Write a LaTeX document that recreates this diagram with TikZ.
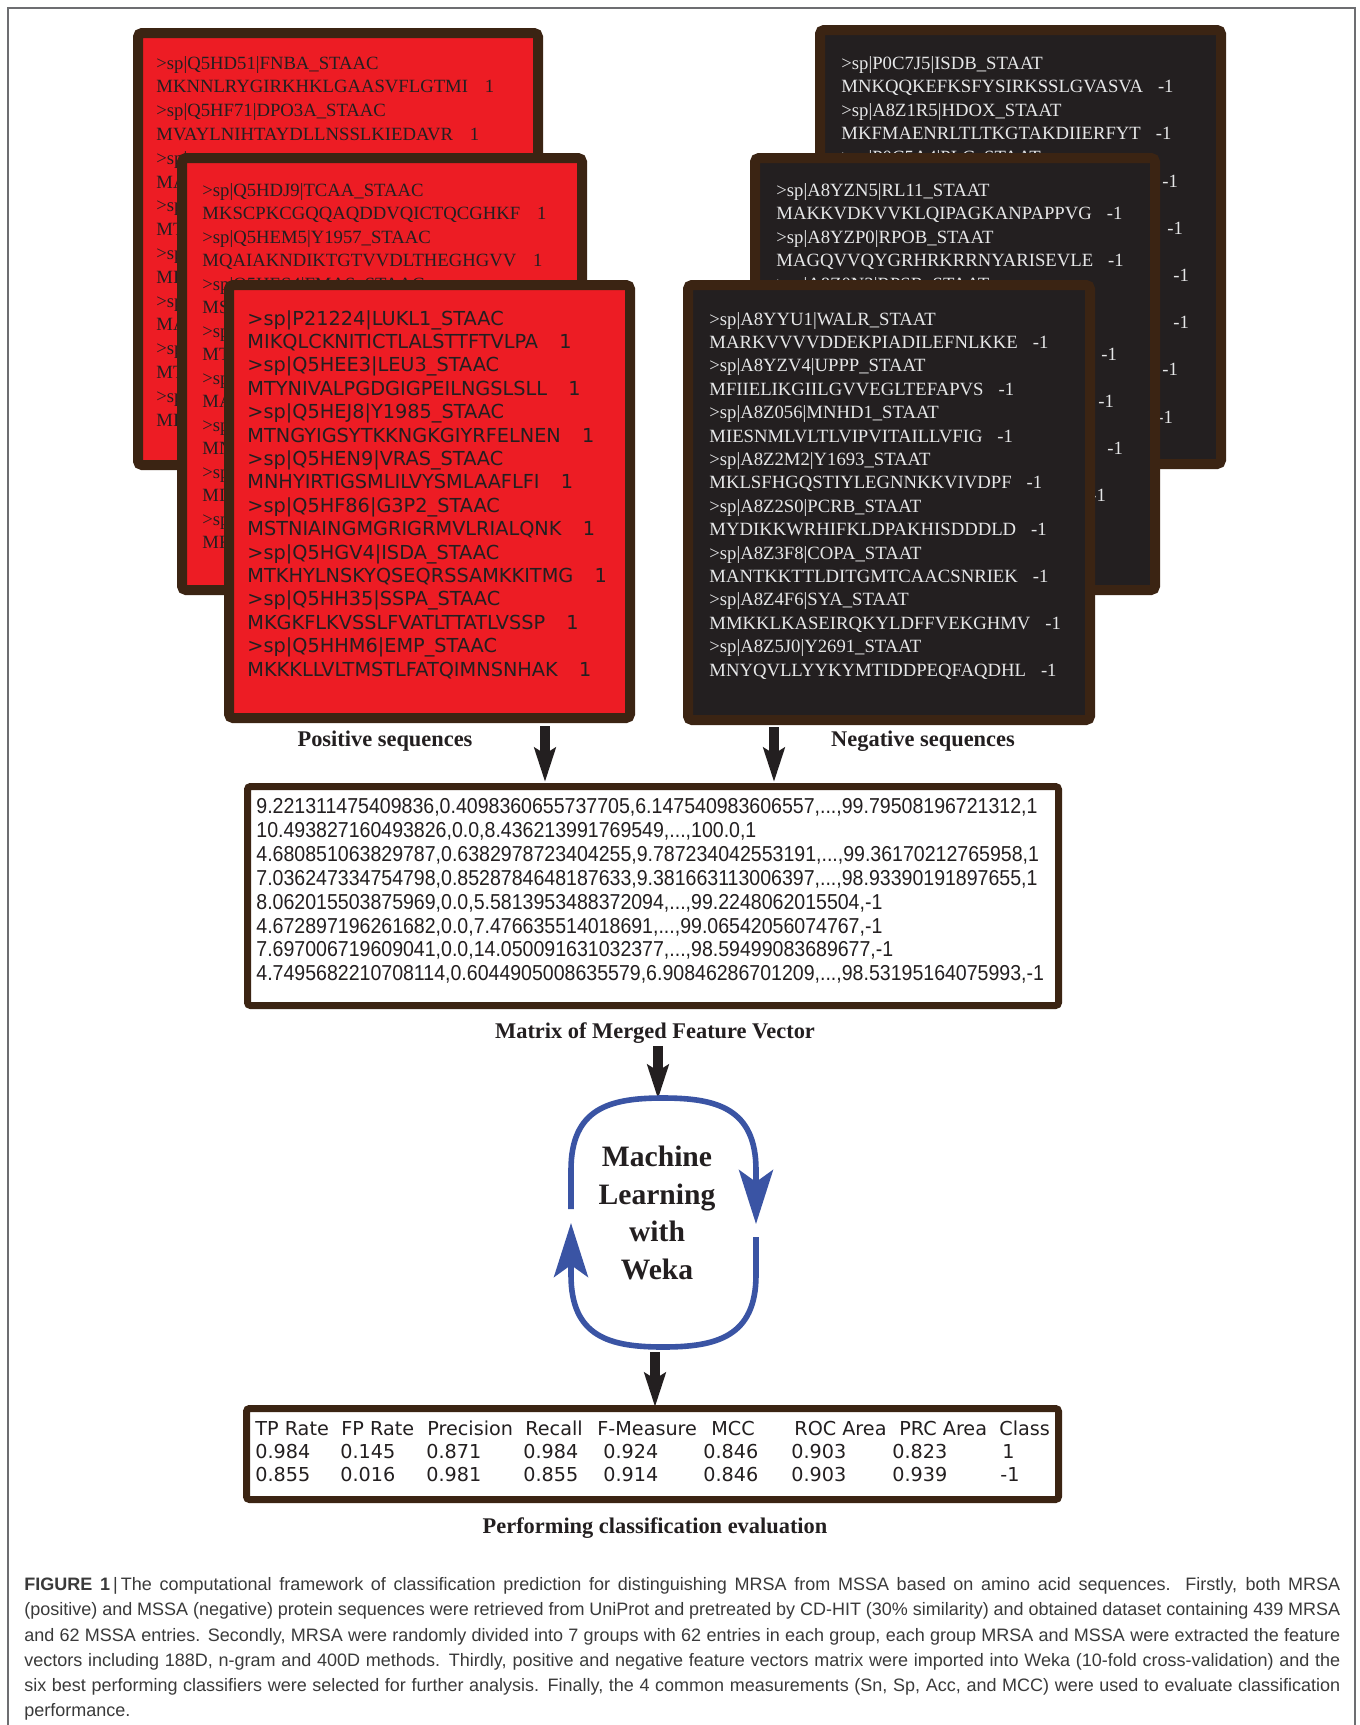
\documentclass[tikz,border=0pt]{standalone}
\usepackage{fontspec}
\setmainfont{Liberation Serif}
\newfontfamily\dvs{DejaVu Sans}
\newfontfamily\matf[FakeStretch=0.905]{Liberation Sans}
\newfontfamily\capf{Liberation Sans}
\usetikzlibrary{arrows.meta}
\definecolor{redf}{HTML}{ED1C24}
\definecolor{brd}{HTML}{3B2413}
\definecolor{darkf}{HTML}{231F20}
\definecolor{ltxt}{HTML}{E6E7E8}
\definecolor{blu}{HTML}{3A54A4}
\definecolor{capc}{HTML}{3A3A3A}
\definecolor{framec}{HTML}{6D6E71}
\begin{document}
\begin{tikzpicture}[x=0.5pt,y=-0.5pt,
  redbox/.style={draw=brd, fill=redf, line width=5pt, rounded corners=2pt},
  darkbox/.style={draw=brd, fill=darkf, line width=5pt, rounded corners=2pt},
  whitebox/.style={draw=brd, fill=white, line width=3.5pt, rounded corners=1.5pt},
  tl/.style={anchor=base west, inner sep=0pt, font=\fontsize{9.35}{11}\selectfont, text=darkf},
  tld/.style={tl, text=ltxt},
  sl/.style={anchor=base west, inner sep=0pt, font=\dvs\fontsize{9.65}{11}\selectfont, text=darkf},
  lbl/.style={anchor=base, inner sep=0pt, font=\bfseries\fontsize{11.2}{13}\selectfont, text=darkf},
  mll/.style={anchor=base, inner sep=0pt, font=\bfseries\fontsize{14.8}{17}\selectfont, text=darkf},
  matl/.style={anchor=base west, inner sep=0pt, font=\matf\fontsize{10.8}{12}\selectfont, text=darkf},
  resl/.style={anchor=base west, inner sep=0pt, font=\dvs\fontsize{9.6}{11}\selectfont, text=darkf},
  barrow/.style={draw=darkf, line width=5pt, -{Stealth[length=17pt,width=10.5pt,inset=3pt]}},
  looparr/.style={draw=blu, line width=2.8pt, -{Stealth[length=27pt,width=17pt,inset=6pt]}},
  framel/.style={draw=framec, line width=0.75pt}
]
\useasboundingbox (0,0) rectangle (1360,1725);
\fill[white] (0,0) rectangle (1360,1725);
\draw[framel] (8,1740) -- (8,8) -- (1355,8) -- (1355,1740);

% ---------- positive (red) stack ----------
\draw[redbox] (138,33) rectangle (538,465);
\foreach \t [count=\i from 0] in {>sp|Q5HD51|FNBA\_STAAC, MKNNLRYGIRKHKLGAASVFLGTMI\hspace{0.9em}1, >sp|Q5HF71|DPO3A\_STAAC, MVAYLNIHTAYDLLNSSLKIEDAVR\hspace{0.9em}1, >sp|, MA, >sp, MT, >sp, MI, >sp, MA, >sp, MT, >sp, MI}
  \node[tl] (ra\i) at (156,69+23.8*\i) {\t};

\draw[redbox] (182,158) rectangle (582,590);
\foreach \t [count=\i from 0] in {>sp|Q5HDJ9|TCAA\_STAAC, MKSCPKCGQQAQDDVQICTQCGHKF\hspace{0.9em}1, >sp|Q5HEM5|Y1957\_STAAC, MQAIAKNDIKTGTVVDLTHEGHGVV\hspace{0.9em}1, >sp|Q5HES4|FMAS\_STAAC, MS, >sp, MT, >sp, MA, >sp, MN, >sp, MI, >sp, MK}
  \node[tl] (rb\i) at (202,196+23.5*\i) {\t};

\draw[redbox] (229,285) rectangle (630,718);
\foreach \t [count=\i from 0] in {>sp|P21224|LUKL1\_STAAC, MIKQLCKNITICTLALSTTFTVLPA\hspace{1.1em}1, >sp|Q5HEE3|LEU3\_STAAC, MTYNIVALPGDGIGPEILNGSLSLL\hspace{1.1em}1, >sp|Q5HEJ8|Y1985\_STAAC, MTNGYIGSYTKKNGKGIYRFELNEN\hspace{1.1em}1, >sp|Q5HEN9|VRAS\_STAAC, MNHYIRTIGSMLILVYSMLAAFLFI\hspace{1.1em}1, >sp|Q5HF86|G3P2\_STAAC, MSTNIAINGMGRIGRMVLRIALQNK\hspace{1.1em}1, >sp|Q5HGV4|ISDA\_STAAC, MTKHYLNSKYQSEQRSSAMKKITMG\hspace{1.1em}1, >sp|Q5HH35|SSPA\_STAAC, MKGKFLKVSSLFVATLTTATLVSSP\hspace{1.1em}1, >sp|Q5HHM6|EMP\_STAAC, MKKKLLVLTMSTLFATQIMNSNHAK\hspace{1.1em}1}
  \node[sl] (rc\i) at (247,325+23.4*\i) {\t};

% ---------- negative (dark) stack ----------
\draw[darkbox] (820,30) rectangle (1221,464);
\foreach \t [count=\i from 0] in {>sp|P0C7J5|ISDB\_STAAT, MNKQQKEFKSFYSIRKSSLGVASVA\hspace{0.8em}-1, >sp|A8Z1R5|HDOX\_STAAT, MKFMAENRLTLTKGTAKDIIERFYT\hspace{0.8em}-1, >sp|P0C5A4|PLC\_STAAT}
  \node[tld] (da\i) at (841,69+23.6*\i) {\t};
\foreach \xx/\k in {1162/5, 1167/7, 1173/9, 1173/11, 1162/13, 1157/15}
  \node[tld] (dam\k) at (\xx,69+23.6*\k) {-1};

\draw[darkbox] (755,158) rectangle (1155,590);
\foreach \t [count=\i from 0] in {>sp|A8YZN5|RL11\_STAAT, MAKKVDKVVKLQIPAGKANPAPPVG\hspace{0.8em}-1, >sp|A8YZP0|RPOB\_STAAT, MAGQVVQYGRHRKRRNYARISEVLE\hspace{0.8em}-1, >sp|A8Z0N3|RPSR\_STAAT}
  \node[tld] (db\i) at (776,196+23.5*\i) {\t};
\foreach \xx/\k in {1101/7, 1098/9, 1107/11, 1090/13}
  \node[tld] (dbm\k) at (\xx,196+23.5*\k) {-1};

\draw[darkbox] (688,285) rectangle (1090,720);
\foreach \t [count=\i from 0] in {>sp|A8YYU1|WALR\_STAAT, MARKVVVVDDEKPIADILEFNLKKE\hspace{0.8em}-1, >sp|A8YZV4|UPPP\_STAAT, MFIIELIKGIILGVVEGLTEFAPVS\hspace{0.8em}-1, >sp|A8Z056|MNHD1\_STAAT, MIESNMLVLTLVIPVITAILLVFIG\hspace{0.8em}-1, >sp|A8Z2M2|Y1693\_STAAT, MKLSFHGQSTIYLEGNNKKVIVDPF\hspace{0.8em}-1, >sp|A8Z2S0|PCRB\_STAAT, MYDIKKWRHIFKLDPAKHISDDDLD\hspace{0.8em}-1, >sp|A8Z3F8|COPA\_STAAT, MANTKKTTLDITGMTCAACSNRIEK\hspace{0.8em}-1, >sp|A8Z4F6|SYA\_STAAT, MMKKLKASEIRQKYLDFFVEKGHMV\hspace{0.8em}-1, >sp|A8Z5J0|Y2691\_STAAT, MNYQVLLYYKYMTIDDPEQFAQDHL\hspace{0.8em}-1}
  \node[tld] (dc\i) at (709,325+23.4*\i) {\t};

% ---------- labels ----------
\node[lbl] (poslbl) at (385,746) {Positive sequences};
\node[lbl] (neglbl) at (923,746) {Negative sequences};

% ---------- matrix ----------
\draw[whitebox] (247.5,786.5) rectangle (1058.5,1005.5);
\node[matl] (m0) at (256,813.5) {9.221311475409836,0.4098360655737705,6.147540983606557,...,99.79508196721312,1};
\node[matl] (m1) at (256,837.4) {10.493827160493826,0.0,8.436213991769549,...,100.0,1};
\node[matl] (m2) at (256,861.3) {4.680851063829787,0.6382978723404255,9.787234042553191,...,99.36170212765958,1};
\node[matl] (m3) at (256,885.2) {7.036247334754798,0.8528784648187633,9.381663113006397,...,98.93390191897655,1};
\node[matl] (m4) at (256,909.1) {8.062015503875969,0.0,5.5813953488372094,...,99.2248062015504,-1};
\node[matl] (m5) at (256,933.0) {4.672897196261682,0.0,7.476635514018691,...,99.06542056074767,-1};
\node[matl] (m6) at (256,956.9) {7.697006719609041,0.0,14.050091631032377,...,98.59499083689677,-1};
\node[matl] (m7) at (256,980.8) {4.7495682210708114,0.6044905008635579,6.90846286701209,...,98.53195164075993,-1};
\node[lbl] (matlbl) at (655,1038) {Matrix of Merged Feature Vector};

% ---------- arrows from stacks ----------
\coordinate (pa1) at (545,726); \coordinate (pa2) at (545,782);
\coordinate (na1) at (774,727); \coordinate (na2) at (774,782);
\draw[barrow] (pa1) -- (pa2);
\draw[barrow] (na1) -- (na2);

% ---------- machine learning loop ----------
\coordinate (ma1) at (658,1046); \coordinate (ma2) at (658,1099);
\draw[barrow] (ma1) -- (ma2);
\draw[looparr] (571,1209) -- (571,1170) .. controls (571,1108) and (610,1098) .. (663,1098) .. controls (716,1098) and (756,1108) .. (756,1170) -- (756,1224);
\draw[looparr] (756,1237) -- (756,1275) .. controls (756,1337) and (716,1347) .. (663,1347) .. controls (610,1347) and (571,1337) .. (571,1275) -- (571,1223);
\node[mll] (ml1) at (657,1166) {Machine};
\node[mll] (ml2) at (657,1204) {Learning};
\node[mll] (ml3) at (657,1241) {with};
\node[mll] (ml4) at (657,1279) {Weka};
\coordinate (ra1) at (655,1352); \coordinate (ra2) at (655,1407);
\draw[barrow] (ra1) -- (ra2);

% ---------- results ----------
\draw[whitebox] (246.5,1408.5) rectangle (1058.5,1499.5);
\foreach \xx/\t [count=\i] in {255/TP Rate, 341/FP Rate, 427/Precision, 525/Recall, 597/F-Measure, 711/MCC, 794/ROC Area, 899/PRC Area, 999/Class}
  \node[resl] (h\i) at (\xx,1435) {\t};
\foreach \xx/\t [count=\i] in {255/0.984, 340/0.145, 426/0.871, 523/0.984, 603/0.924, 703/0.846, 791/0.903, 892/0.823, 1002/1}
  \node[resl] (va\i) at (\xx,1458) {\t};
\foreach \xx/\t [count=\i] in {255/0.855, 340/0.016, 426/0.981, 523/0.855, 603/0.914, 703/0.846, 791/0.903, 892/0.939, 1000/-1}
  \node[resl] (vb\i) at (\xx,1481) {\t};
\node[lbl] (reslbl) at (655,1533) {Performing classification evaluation};

% ---------- caption ----------
\node[anchor=north west, inner sep=0pt, text width=658pt, align=justify, text=capc,
      font=\capf\fontsize{9}{12.65}\selectfont] (cap) at (24,1577)
{\hbadness=10000\tolerance=9999\textbf{FIGURE 1}\,|\,The computational framework of classification prediction for distinguishing MRSA from MSSA based on amino acid sequences. Firstly, both MRSA\linebreak
(positive) and MSSA (negative) protein sequences were retrieved from UniProt and pretreated by CD-HIT (30\% similarity) and obtained dataset containing 439 MRSA\linebreak
and 62 MSSA entries. Secondly, MRSA were randomly divided into 7 groups with 62 entries in each group, each group MRSA and MSSA were extracted the feature\linebreak
vectors including 188D, n-gram and 400D methods. Thirdly, positive and negative feature vectors matrix were imported into Weka (10-fold cross-validation) and the\linebreak
six best performing classifiers were selected for further analysis. Finally, the 4 common measurements (Sn, Sp, Acc, and MCC) were used to evaluate classification\linebreak
performance.};
\end{tikzpicture}
\end{document}
